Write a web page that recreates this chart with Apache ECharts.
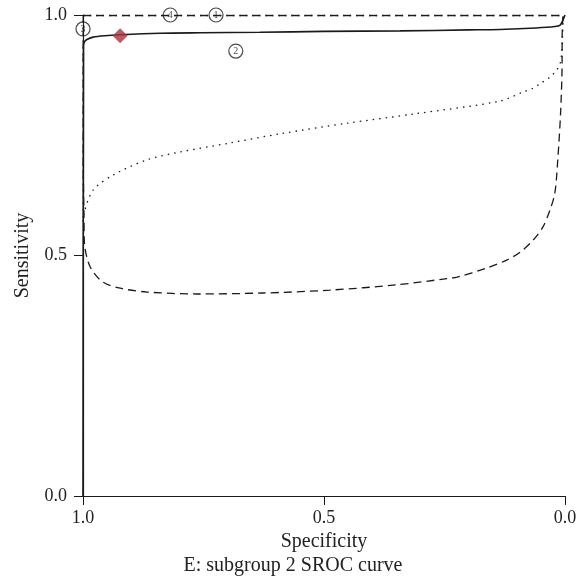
<!DOCTYPE html>
<html>
<head>
    <meta charset="utf-8">
    <title>SROC curve</title>
    <style>
        *{ margin:0; padding:0; box-sizing:border-box; }
        html, body, #chart{ width:100%; height:100%; overflow:hidden; background:#fff; }
    </style>
</head>
<body>
    <div id="chart"></div>
    <script src="https://cdn.jsdelivr.net/npm/echarts@6/dist/echarts.min.js"></script>
    <script>
        // [specificity, sensitivity]
        var srocCurve = [
            [1.0, 0.0], [0.9995, 0.6], [0.999, 0.9], [0.999, 0.935], [0.997, 0.944],
            [0.992, 0.949], [0.979, 0.954], [0.955, 0.957], [0.923, 0.959], [0.84, 0.962],
            [0.757, 0.963], [0.633, 0.964], [0.5, 0.966], [0.342, 0.967], [0.2, 0.969],
            [0.135, 0.970], [0.06, 0.973], [0.021, 0.976], [0.010, 0.979], [0.004, 0.99], [0.0, 1.0]
        ];
        // 95% confidence region (dashed)
        var confRegion = [
            [0.9995, 0.999], [0.5, 0.999], [0.004, 0.999], [0.005, 0.985], [0.006, 0.95],
            [0.006, 0.906], [0.009, 0.80], [0.015, 0.699], [0.021, 0.630], [0.031, 0.595],
            [0.046, 0.559], [0.066, 0.532], [0.093, 0.507], [0.120, 0.491], [0.162, 0.474],
            [0.224, 0.455], [0.245, 0.452], [0.349, 0.439], [0.488, 0.428], [0.627, 0.422],
            [0.763, 0.420], [0.867, 0.424], [0.923, 0.432], [0.959, 0.445], [0.985, 0.476],
            [0.997, 0.526], [0.998, 0.58], [0.9995, 0.70], [0.9995, 0.999]
        ];
        // 95% prediction region (dotted)
        var predRegion = [
            [0.9995, 0.999], [0.5, 0.999], [0.004, 0.999], [0.005, 0.96], [0.007, 0.92],
            [0.010, 0.900], [0.017, 0.886], [0.031, 0.871], [0.052, 0.857], [0.066, 0.848],
            [0.087, 0.840], [0.135, 0.821], [0.315, 0.794], [0.452, 0.775], [0.591, 0.753],
            [0.695, 0.734], [0.799, 0.715], [0.867, 0.699], [0.938, 0.667], [0.979, 0.636],
            [0.998, 0.588], [0.9995, 0.57], [0.9995, 0.999]
        ];
        var studyPoints = [
            [0.724, 1.0, '1'], [0.683, 0.925, '2'], [1.0, 0.971, '3'], [0.819, 1.0, '4']
        ];
        var summaryPoint = [[0.923, 0.957]];

        var font = '"Liberation Serif", "DejaVu Serif", serif';
        var ink = '#1a1a1a';

        var chart = echarts.init(document.getElementById('chart'));

        var option = {
            animation: false,
            textStyle: { fontFamily: font },
            grid: { left: 83, right: 21, top: 15, bottom: 90 },
            xAxis: {
                type: 'value', inverse: true, min: 0, max: 1, interval: 0.5,
                name: 'Specificity', nameLocation: 'middle', nameGap: 34,
                nameTextStyle: { fontFamily: font, fontSize: 20, color: '#222' },
                axisLine: { onZero: false, lineStyle: { color: ink, width: 1.2 } },
                axisTick: { length: 9, lineStyle: { color: ink } },
                axisLabel: {
                    margin: 13, fontFamily: font, fontSize: 18, color: '#222',
                    formatter: function (v) { return v.toFixed(1); }
                },
                splitLine: { show: false }
            },
            yAxis: {
                type: 'value', min: 0, max: 1, interval: 0.5,
                name: 'Sensitivity', nameLocation: 'middle', nameGap: 50,
                nameTextStyle: { fontFamily: font, fontSize: 20, color: '#222' },
                axisLine: { show: true, onZero: false, lineStyle: { color: ink, width: 1.2 } },
                axisTick: { show: true, length: 9, lineStyle: { color: ink } },
                axisLabel: {
                    margin: 16, fontFamily: font, fontSize: 18, color: '#222',
                    formatter: function (v) { return v.toFixed(1); }
                },
                splitLine: { show: false }
            },
            graphic: [{
                type: 'text', left: 'center', top: 556,
                style: { text: 'E: subgroup 2 SROC curve', font: '20px ' + font, fill: '#222' }
            }],
            series: [
                {
                    type: 'line', data: predRegion, symbol: 'none', smooth: 0.3,
                    lineStyle: { color: ink, width: 1.3, type: [1.5, 5] }
                },
                {
                    type: 'line', data: confRegion, symbol: 'none', smooth: 0.3,
                    lineStyle: { color: ink, width: 1.3, type: [8, 5] }
                },
                {
                    type: 'line', data: srocCurve, symbol: 'none', smooth: 0.3,
                    lineStyle: { color: ink, width: 1.6 }
                },
                {
                    type: 'scatter', data: studyPoints, symbol: 'circle', symbolSize: 14, clip: false,
                    itemStyle: { color: 'rgba(255,255,255,0)', borderColor: ink, borderWidth: 1.2 },
                    label: {
                        show: true, position: 'inside', fontSize: 10, color: ink, fontFamily: font,
                        formatter: function (p) { return p.value[2]; }
                    },
                    z: 5
                },
                {
                    type: 'scatter', data: summaryPoint, symbol: 'diamond', symbolSize: [15, 15],
                    itemStyle: { color: '#a8323e' }, z: 6
                }
            ]
        };

        chart.setOption(option);
    </script>
</body>
</html>
